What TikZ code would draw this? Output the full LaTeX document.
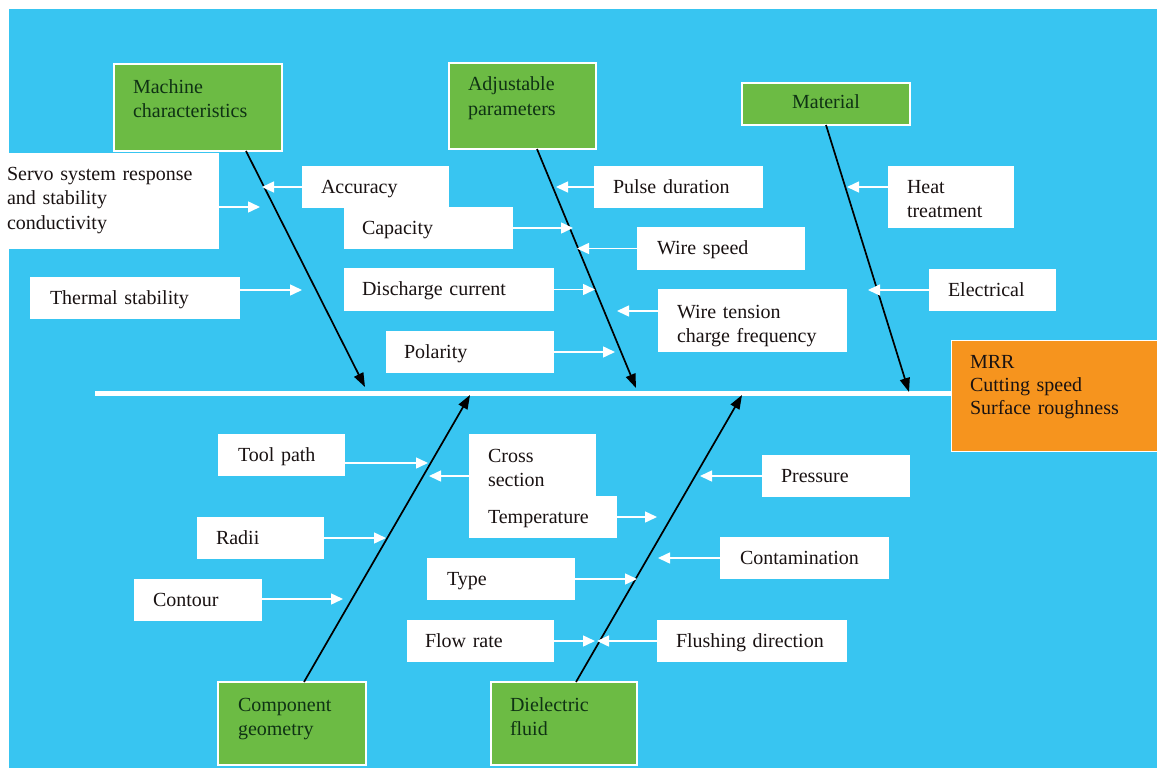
\documentclass[tikz,border=0pt]{standalone}
\usepackage{fontspec}
\setmainfont{Liberation Serif}
\usetikzlibrary{arrows.meta}
\definecolor{bgblue}{RGB}{56,197,241}
\definecolor{gfill}{RGB}{108,187,68}
\definecolor{ofill}{RGB}{246,148,30}
\definecolor{gtext}{RGB}{15,50,20}
\definecolor{ktext}{RGB}{25,18,18}
\begin{document}
\begin{tikzpicture}[x=1pt,y=-1pt,
  box/.style={rectangle, anchor=north west, inner ysep=0pt, outer sep=0pt, align=left,
    font=\fontsize{20}{24.5}\selectfont, text=ktext},
  wbox/.style={box, fill=white},
  gbox/.style={box, fill=gfill, draw=white, line width=1.2pt, text=gtext},
  obox/.style={box, fill=ofill, draw=white, line width=0.8pt, font=\fontsize{20}{23}\selectfont},
  sz/.style n args={4}{inner xsep=#1pt, text width=#2pt, text height=#3pt, text depth=#4pt},
  bone/.style={draw=black, line width=1.7pt, -{Triangle[length=14pt,width=10pt]}},
  warrow/.style={draw=white, line width=1.5pt, -{Triangle[length=12pt,width=11pt]}},
  spine/.style={draw=white, line width=5pt}]
\useasboundingbox (0,0) rectangle (1157,768);
\fill[white] (0,0) rectangle (1157,768);
\fill[bgblue] (9,9) rectangle (1157,768);

% head and spine
\node[obox, sz={19}{168}{28}{83}] (mrr) at (951,340) {MRR\\Cutting speed\\Surface roughness};
\coordinate (spL) at (95,393);
\draw[spine] (spL) -- (spL -| mrr.west);

% category boxes
\node[gbox, sz={19}{130}{29}{58}] (mach) at (114,64) {Machine\\characteristics};
\node[gbox, sz={19}{109}{28}{58}] (adj) at (449,63) {Adjustable\\parameters};
\node[gbox, sz={5}{158}{26}{16}, align=center] (mat) at (742,83) {Material};
\node[gbox, sz={20}{108}{29}{54}] (comp) at (218,682) {Component\\geometry};
\node[gbox, sz={19}{108}{29}{54}] (diel) at (491,682) {Dielectric\\fluid};

% bones
\coordinate (bMach) at (365,387);
\coordinate (bAdj) at (636,388);
\coordinate (bMat) at (909,392);
\coordinate (bComp) at (470,395);
\coordinate (bDiel) at (742,395);
\draw[bone] ([xshift=48pt]mach.south) -- (bMach);
\draw[bone] ([xshift=14.5pt]adj.south) -- (bAdj);
\draw[bone] (mat.south) -- (bMat);
\draw[bone] ([xshift=12pt]comp.north) -- (bComp);
\draw[bone] ([xshift=12pt]diel.north) -- (bDiel);

% cause boxes, top
\node[wbox, sz={7}{205}{27}{69}] (servo) at (0,153) {Servo system response\\and stability\\conductivity};
\node[wbox, sz={19}{109}{27}{15}] (acc) at (302,166) {Accuracy};
\node[wbox, sz={18}{133}{27}{15}] (cap) at (344,207) {Capacity};
\node[wbox, sz={18}{174}{27}{16}] (dis) at (344,268) {Discharge current};
\node[wbox, sz={18}{132}{27}{15}] (pol) at (386,331) {Polarity};
\node[wbox, sz={20}{170}{27}{15}] (therm) at (30,277) {Thermal stability};
\node[wbox, sz={19}{131}{27}{15}] (pulse) at (594,166) {Pulse duration};
\node[wbox, sz={20}{128}{27}{16}] (wsp) at (637,227) {Wire speed};
\node[wbox, sz={19}{151}{29}{34}] (wten) at (658,289) {Wire tension\\charge frequency};
\node[wbox, sz={19}{88}{27}{35}] (heat) at (888,166) {Heat\\treatment};
\node[wbox, sz={19}{89}{27}{15}] (elec) at (929,269) {Electrical};

% cause boxes, bottom
\node[wbox, sz={20}{87}{27}{15}] (tool) at (218,434) {Tool path};
\node[wbox, sz={19}{89}{27}{15}] (radii) at (197,517) {Radii};
\node[wbox, sz={19}{90}{27}{15}] (cont) at (134,579) {Contour};
\node[wbox, sz={19}{89}{28}{35}] (cross) at (469,434) {Cross\\section};
\node[wbox, sz={19}{110}{27}{15}] (temp) at (469,496) {Temperature};
\node[wbox, sz={20}{108}{27}{15}] (type) at (427,558) {Type};
\node[wbox, sz={18}{111}{27}{15}] (flow) at (407,620) {Flow rate};
\node[wbox, sz={19}{110}{27}{15}] (press) at (762,455) {Pressure};
\node[wbox, sz={20}{129}{27}{15}] (contam) at (720,537) {Contamination};
\node[wbox, sz={19}{152}{27}{15}] (flush) at (657,620) {Flushing direction};

% arrow ends
\coordinate (eAcc) at (262,187);
\coordinate (eServo) at (260,207);
\coordinate (eTherm) at (302,290);
\coordinate (ePulse) at (556,187);
\coordinate (eCap) at (573,228);
\coordinate (eWsp) at (577,248.5);
\coordinate (eDis) at (595,289.5);
\coordinate (eWten) at (617,311);
\coordinate (ePol) at (615,352);
\coordinate (eHeat) at (847,187);
\coordinate (eElec) at (868,290);
\coordinate (eTool) at (428,463);
\coordinate (eCross) at (429,476);
\coordinate (eRadii) at (386,538);
\coordinate (eCont) at (343,599);
\coordinate (eTemp) at (657,517);
\coordinate (ePress) at (700,476);
\coordinate (eContam) at (658,558);
\coordinate (eType) at (637,579);
\coordinate (eFlow) at (595,641);
\coordinate (eFlush) at (597,641);

% white arrows
\draw[warrow] (eAcc -| acc.west) -- (eAcc);
\draw[warrow] (eServo -| servo.east) -- (eServo);
\draw[warrow] (eTherm -| therm.east) -- (eTherm);
\draw[warrow] (ePulse -| pulse.west) -- (ePulse);
\draw[warrow] (eCap -| cap.east) -- (eCap);
\draw[warrow] (eWsp -| wsp.west) -- (eWsp);
\draw[warrow] (eDis -| dis.east) -- (eDis);
\draw[warrow] (eWten -| wten.west) -- (eWten);
\draw[warrow] (ePol -| pol.east) -- (ePol);
\draw[warrow] (eHeat -| heat.west) -- (eHeat);
\draw[warrow] (eElec -| elec.west) -- (eElec);
\draw[warrow] (eTool -| tool.east) -- (eTool);
\draw[warrow] (eCross -| cross.west) -- (eCross);
\draw[warrow] (eRadii -| radii.east) -- (eRadii);
\draw[warrow] (eCont -| cont.east) -- (eCont);
\draw[warrow] (eTemp -| temp.east) -- (eTemp);
\draw[warrow] (ePress -| press.west) -- (ePress);
\draw[warrow] (eContam -| contam.west) -- (eContam);
\draw[warrow] (eType -| type.east) -- (eType);
\draw[warrow] (eFlow -| flow.east) -- (eFlow);
\draw[warrow] (eFlush -| flush.west) -- (eFlush);
\end{tikzpicture}
\end{document}
